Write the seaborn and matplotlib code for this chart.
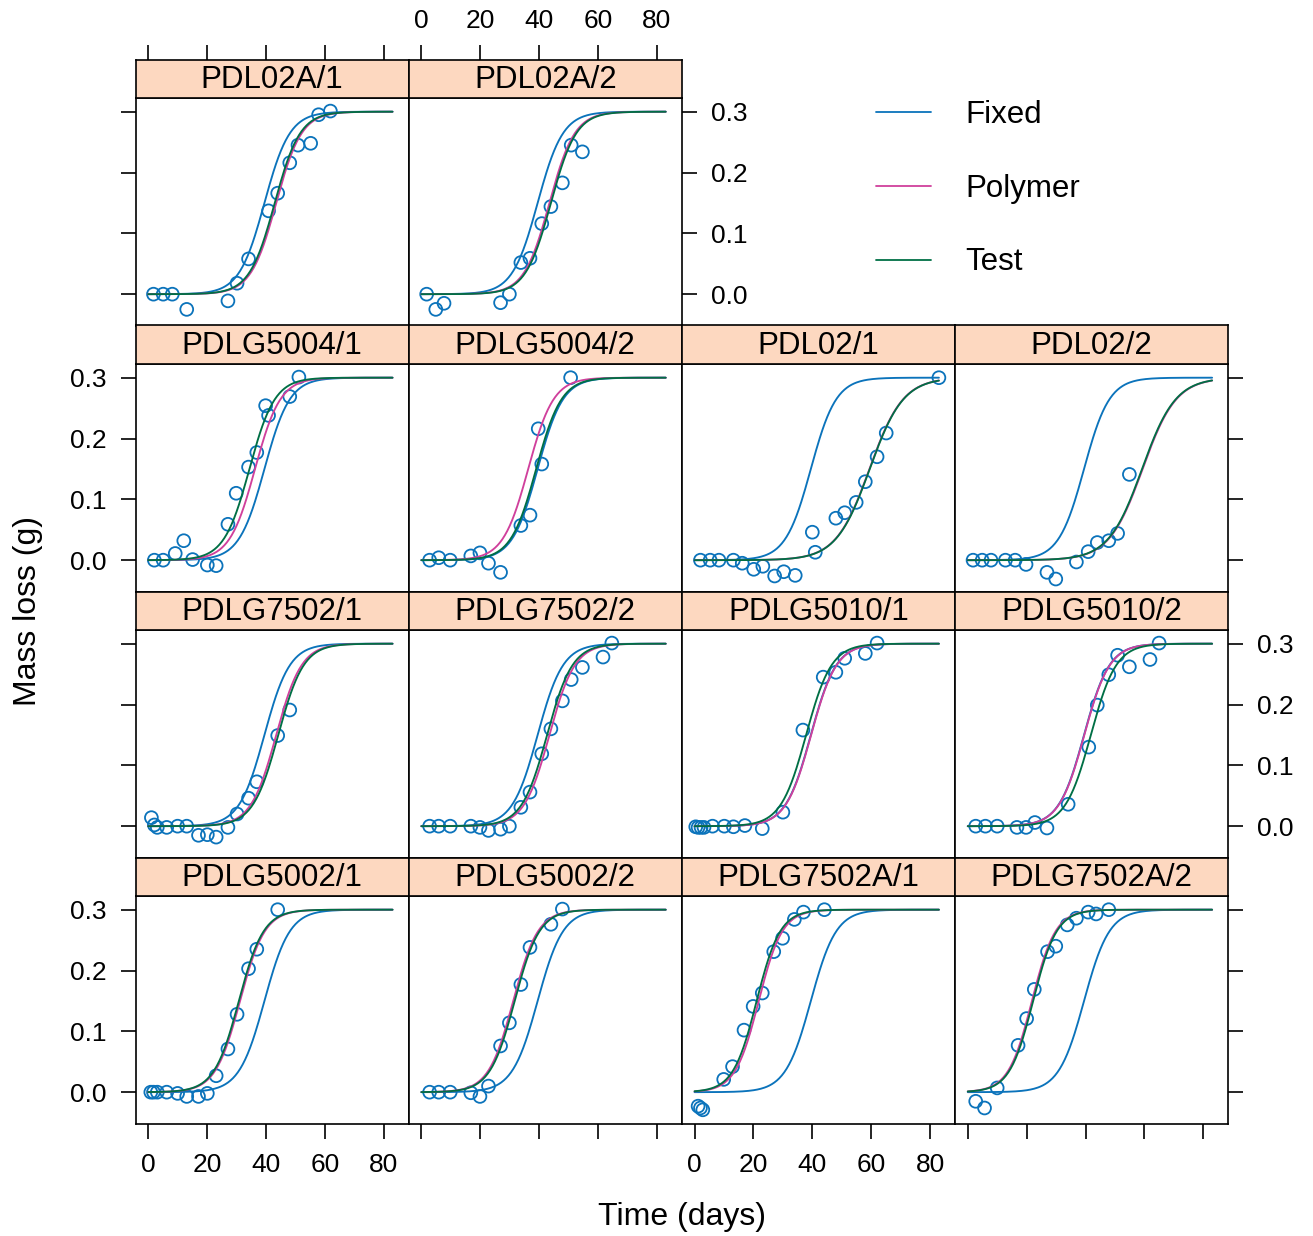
import numpy as np
import pandas as pd
import seaborn as sns
import matplotlib.pyplot as plt
from matplotlib.lines import Line2D

# panels in lattice order (bottom-left first in R, here listed top row first)
panels = ["PDL02A/1", "PDL02A/2",
          "PDLG5004/1", "PDLG5004/2", "PDL02/1", "PDL02/2",
          "PDLG7502/1", "PDLG7502/2", "PDLG5010/1", "PDLG5010/2",
          "PDLG5002/1", "PDLG5002/2", "PDLG7502A/1", "PDLG7502A/2"]

days = [
    [1.8, 5.1, 8.2, 13.1, 27.1, 30.2, 34.1, 40.9, 44.0, 48.1, 50.9, 55.2, 57.9, 61.9],
    [1.8, 4.9, 7.7, 26.9, 29.9, 33.8, 36.9, 40.9, 44.0, 47.9, 50.9, 54.7],
    [2.1, 5.1, 9.2, 12.1, 15.1, 20.1, 23.1, 27.1, 29.9, 34.1, 36.9, 39.9, 40.9, 48.1, 51.2],
    [2.8, 5.9, 9.8, 16.8, 19.9, 22.8, 26.9, 33.8, 36.9, 39.7, 40.9, 50.7],
    [2.0, 5.3, 8.3, 13.2, 16.2, 20.1, 23.2, 27.2, 30.3, 34.2, 40.0, 41.0, 48.0, 51.0,
     54.9, 58.0, 62.0, 65.1, 83.0],
    [1.8, 4.9, 7.9, 12.8, 16.1, 19.8, 26.9, 29.9, 36.9, 40.9, 44.0, 47.9, 50.9, 54.9],
    [1.1, 2.1, 3.1, 6.3, 10.0, 13.1, 17.1, 20.1, 23.1, 27.1, 30.2, 34.1, 36.9, 44.0, 48.1],
    [2.8, 5.9, 9.8, 16.8, 19.9, 22.8, 26.9, 29.9, 33.8, 36.9, 40.9, 44.0, 47.9, 50.9,
     54.7, 61.7, 64.7],
    [0.4, 1.2, 2.2, 3.2, 6.1, 10.1, 13.2, 17.1, 23.0, 30.0, 36.8, 43.7, 48.0, 51.0, 58.0, 62.0],
    [2.7, 6.0, 10.0, 16.7, 19.8, 22.8, 26.9, 34.1, 41.1, 44.0, 47.9, 50.9, 54.9, 61.9, 65.0],
    [0.9, 1.8, 3.1, 6.3, 10.0, 13.1, 17.1, 20.1, 23.1, 27.1, 30.2, 34.1, 36.9, 44.0],
    [2.8, 5.9, 9.8, 16.8, 19.9, 22.8, 26.9, 29.9, 33.8, 36.9, 44.0, 47.9],
    [1.2, 2.0, 2.8, 9.9, 12.9, 16.8, 19.9, 23.0, 26.9, 29.9, 33.9, 37.0, 44.1],
    [2.7, 5.7, 10.0, 17.1, 20.0, 22.6, 27.1, 29.9, 33.8, 36.9, 40.9, 43.6, 47.9],
]

mass = [
    [0.0, 0.0, 0.0, -0.025, -0.011, 0.018, 0.058, 0.137, 0.166, 0.216, 0.245, 0.248, 0.295, 0.301],
    [0.0, -0.025, -0.015, -0.014, 0.0, 0.052, 0.059, 0.116, 0.144, 0.183, 0.245, 0.234],
    [0.0, 0.0, 0.011, 0.032, 0.001, -0.008, -0.009, 0.059, 0.110, 0.153, 0.177, 0.254, 0.238,
     0.269, 0.301],
    [0.0, 0.004, 0.0, 0.007, 0.012, -0.005, -0.020, 0.057, 0.074, 0.216, 0.158, 0.300],
    [0.0, 0.0, 0.0, 0.0, -0.005, -0.015, -0.010, -0.026, -0.019, -0.025, 0.046, 0.013, 0.069,
     0.078, 0.095, 0.129, 0.170, 0.209, 0.300],
    [0.0, 0.0, 0.0, 0.0, 0.0, -0.007, -0.020, -0.031, -0.003, 0.014, 0.029, 0.032, 0.044, 0.141],
    [0.014, 0.002, -0.002, -0.002, 0.0, 0.0, -0.015, -0.014, -0.018, -0.002, 0.020, 0.046,
     0.073, 0.149, 0.191],
    [0.0, 0.0, 0.0, 0.0, -0.002, -0.007, -0.005, 0.0, 0.031, 0.056, 0.119, 0.160, 0.206, 0.241,
     0.261, 0.278, 0.301],
    [-0.001, -0.002, -0.002, -0.002, 0.0, 0.0, -0.001, 0.001, -0.004, 0.023, 0.158, 0.245,
     0.253, 0.276, 0.284, 0.301],
    [0.0, 0.0, 0.0, -0.002, -0.002, 0.006, -0.003, 0.036, 0.130, 0.199, 0.249, 0.281, 0.262,
     0.274, 0.301],
    [0.0, 0.0, 0.0, 0.0, -0.002, -0.007, -0.007, -0.002, 0.027, 0.071, 0.128, 0.203, 0.235, 0.300],
    [0.0, 0.0, 0.0, -0.001, -0.007, 0.010, 0.076, 0.114, 0.177, 0.238, 0.276, 0.301],
    [-0.023, -0.026, -0.029, 0.021, 0.042, 0.102, 0.141, 0.163, 0.231, 0.253, 0.284, 0.296, 0.300],
    [-0.015, -0.026, 0.007, 0.077, 0.121, 0.169, 0.231, 0.240, 0.275, 0.286, 0.296, 0.293, 0.300],
]

# fitted logistic curves (asymptote 0.3 g), midpoints / scales
asym = 0.3
fixed_mid = 39.5
fixed_scale = 4.3
polymer_mid = [43.5, 43.5, 36.3, 36.3, 59.4, 59.4, 43.5, 43.5, 39.6, 39.6, 31.2, 31.2, 21.8, 21.8]
test_mid = [43.0, 44.0, 34.4, 39.0, 59.5, 59.2, 44.2, 42.7, 37.9, 41.8, 30.8, 31.7, 21.1, 22.2]
fit_scale = [4.3, 4.3, 4.3, 4.3, 5.7, 5.7, 4.3, 4.3, 4.3, 4.3, 4.2, 4.2, 4.0, 4.0]

models = ["Fixed", "Polymer", "Test"]
colors = {"Fixed": "#0b73bb", "Polymer": "#d0409c", "Test": "#006f45"}
strip_col = "#fdd8c0"

pts = pd.concat([pd.DataFrame({"panel": p, "day": d, "mass": m})
                 for p, d, m in zip(panels, days, mass)])

t = np.linspace(0, 83, 200)
rows = []
for i, p in enumerate(panels):
    mids = {"Fixed": (fixed_mid, fixed_scale),
            "Polymer": (polymer_mid[i], fit_scale[i]),
            "Test": (test_mid[i], fit_scale[i])}
    for mod in models:
        mid, sc = mids[mod]
        rows.append(pd.DataFrame({"panel": p, "model": mod, "day": t,
                                  "pred": asym / (1 + np.exp((mid - t) / sc))}))
curves = pd.concat(rows)

sns.set_theme(style="white")
plt.rcParams["font.family"] = ["Liberation Sans", "DejaVu Sans"]
plt.rcParams.update({"text.color": "black", "axes.labelcolor": "black",
                     "xtick.color": "black", "ytick.color": "black"})

W, H = 1313, 1236
fig = plt.figure(figsize=(W / 100, H / 100), dpi=100)

col_left = [135.5, 408.7, 681.9, 955.1]
col_w = 273.2
row_top = [59.5, 325.5, 591.5, 857.5]
strip_h = 38.5
panel_h = 227.5
xlim = (-4.3, 88.5)
ylim = (-0.0515, 0.3225)
xt = [0, 20, 40, 60, 80]
yt = [0.0, 0.1, 0.2, 0.3]


def grid_pos(i):
    if i < 2:
        return 0, i
    return 1 + (i - 2) // 4, (i - 2) % 4


tick_kw = dict(direction="out", length=11, width=1.2, labelsize=19, pad=10, colors="black")

for i, name in enumerate(panels):
    r, c = grid_pos(i)
    left = col_left[c] / W
    bot = 1 - (row_top[r] + strip_h + panel_h) / H
    ax = fig.add_axes([left, bot, col_w / W, panel_h / H])
    sns.scatterplot(data=pts[pts.panel == name], x="day", y="mass", ax=ax,
                    s=85, facecolor="none", edgecolor=colors["Fixed"], linewidth=1.3)
    sns.lineplot(data=curves[curves.panel == name], x="day", y="pred", hue="model",
                 hue_order=models, palette=colors, estimator=None, legend=False,
                 linewidth=1.35, ax=ax)
    ax.set(xlim=xlim, ylim=ylim, xlabel="", ylabel="", xticks=xt, yticks=yt)
    ax.set_yticklabels(["0.0", "0.1", "0.2", "0.3"])
    is_right = (r == 0 and c == 1) or (r > 0 and c == 3)
    ax.tick_params(**tick_kw)
    ax.tick_params(left=c == 0, labelleft=c == 0 and r in (1, 3),
                   right=is_right, labelright=is_right and r in (0, 2),
                   bottom=r == 3, labelbottom=r == 3 and c in (0, 2),
                   top=False, labeltop=False)
    for sp in ax.spines.values():
        sp.set_linewidth(1.2)
        sp.set_color("black")

    sax = fig.add_axes([left, 1 - (row_top[r] + strip_h) / H, col_w / W, strip_h / H])
    sax.set_facecolor(strip_col)
    sax.set_xlim(xlim)
    sax.set_yticks([])
    sax.set_xticks(xt if r == 0 else [])
    sax.tick_params(**tick_kw)
    sax.tick_params(bottom=False, labelbottom=False, top=r == 0, labeltop=r == 0 and c == 1,
                    pad=8)
    for sp in sax.spines.values():
        sp.set_linewidth(1.2)
        sp.set_color("black")
    sax.text(0.5, 0.47, name, transform=sax.transAxes, ha="center", va="center",
             fontsize=22.5, color="black")

fig.text(682 / W, 1 - 1217 / H, "Time (days)", ha="center", va="center", fontsize=23)
fig.text(28 / W, 1 - 611 / H, "Mass loss (g)", ha="center", va="center",
         rotation=90, fontsize=23)

handles = [Line2D([], [], color=colors[m], linewidth=1.3) for m in models]
fig.legend(handles, models, loc="upper left", bbox_to_anchor=(876 / W, 1 - 100 / H),
           frameon=False, fontsize=22.5, handlelength=1.75, handletextpad=1.1,
           labelspacing=1.4, borderpad=0, borderaxespad=0)

fig.savefig("out.png", dpi=100)
